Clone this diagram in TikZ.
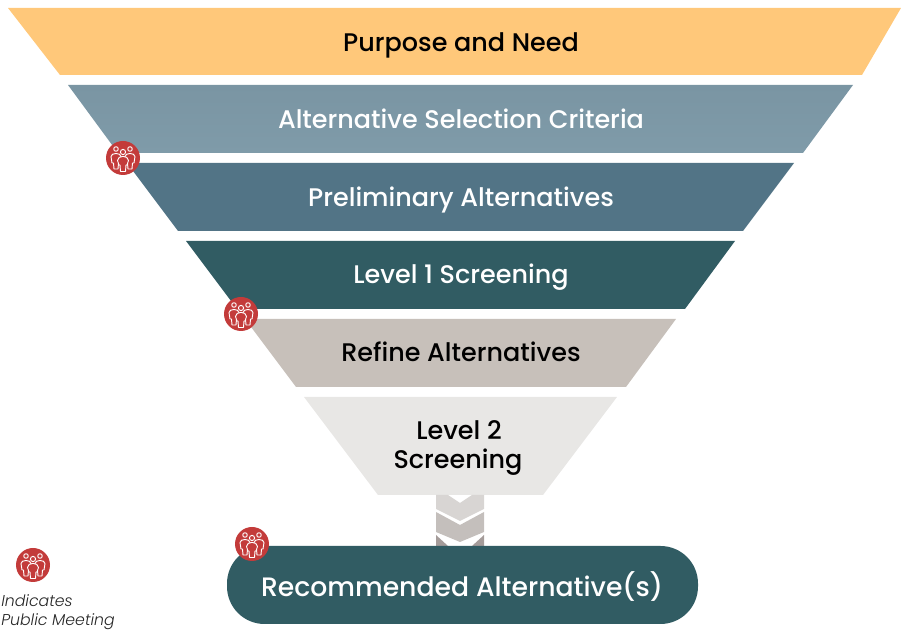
\documentclass[tikz,border=0pt]{standalone}
\usepackage{fontspec}
\setmainfont{Poppins}[UprightFont={* Medium},ItalicFont={* Light Italic}]
\definecolor{cA}{HTML}{FFC87A}
\definecolor{cBt}{HTML}{7A95A3}\definecolor{cBb}{HTML}{7F9BA9}
\definecolor{cC}{HTML}{527486}
\definecolor{cD}{HTML}{315C63}
\definecolor{cE}{HTML}{C7C0BA}
\definecolor{cF}{HTML}{E8E7E5}
\definecolor{cR}{HTML}{C33B3A}
\definecolor{chA}{HTML}{D8D5D3}\definecolor{chB}{HTML}{C4BFBC}\definecolor{chC}{HTML}{A59C9A}
\tikzset{
  band/.style={draw=none},
  lab/.style={font=\fontsize{19.1}{22.5}\selectfont,align=center,inner sep=0pt,anchor=base},
  person/.style={draw=white,line width=0.7pt,fill=#1,line join=round},
  meeting/.pic={
    \fill[cR] (0,0) circle (17);
    \foreach \s in {-1,1}{
      \begin{scope}[shift={(\s*7,0)}]
      \draw[person=cR] (0,-9) circle (2.3);
      \draw[person=cR] (-5,-1.5) .. controls (-5,-5.5) and (5,-5.5) .. (5,-1.5) -- (4,5) -- (2.5,5) -- (2,11) -- (-2,11) -- (-2.5,5) -- (-4,5) -- cycle;
      \end{scope}
    }
    \draw[person=cR] (0,-6) circle (2.6);
    \draw[person=cR] (-5.5,2.5) .. controls (-5.5,-3) and (5.5,-3) .. (5.5,2.5) -- (4,7) -- (3,7) -- (2.5,13.5) -- (-2.5,13.5) -- (-3,7) -- (-4,7) -- cycle;
  }
}
\begin{document}
\begin{tikzpicture}[x=0.75pt,y=-0.75pt]
\useasboundingbox (0,0) rectangle (901,630);
\fill[band,cA] (8,8) -- (901,8) -- (862,75) -- (60,75) -- cycle;
\shade[band,top color=cBt,bottom color=cBb] (68,85) -- (853,85) -- (803,153) -- (118,153) -- cycle;
\fill[band,cC] (127,163) -- (794,163) -- (743,231) -- (178,231) -- cycle;
\fill[band,cD] (186,241) -- (735,241) -- (685,309) -- (237,309) -- cycle;
\fill[band,cE] (245,319) -- (676,319) -- (626,387) -- (296,387) -- cycle;
\fill[band,cF] (304,397) -- (617,397) -- (543,495) -- (378,495) -- cycle;
\fill[chA] (436,495) -- (448,495) -- (460,503) -- (472,495) -- (484,495) -- (484,509) -- (460,521) -- (436,509) -- cycle;
\fill[chB] (436,512) -- (460,525) -- (484,512) -- (484,532) -- (460,542) -- (436,532) -- cycle;
\fill[chC] (436,535) -- (448,546) -- (436,546) -- cycle;
\fill[chC] (484,535) -- (472,546) -- (484,546) -- cycle;
\fill[cD,rounded corners=37.5*0.75pt] (227,546) rectangle (698,624);
\node[lab,text=black] (purpose) at (461,52) {Purpose and Need};
\node[lab,text=white] (criteria) at (461,129) {Alternative Selection Criteria};
\node[lab,text=white] (prelim) at (461,207) {Preliminary Alternatives};
\node[lab,text=white] (level1) at (461,284) {Level 1 Screening};
\node[lab,text=black] (refine) at (461,362) {Refine Alternatives};
\node[lab,text=black] (level2a) at (459,440) {Level 2};
\node[lab,text=black] (level2b) at (458,469) {Screening};
\node[lab,text=white,font=\fontsize{20}{24}\selectfont] (rec) at (462,597) {Recommended Alternative(s)};
\pic at (123,158) {meeting};
\pic at (241,314) {meeting};
\pic at (252,544) {meeting};
\pic at (33,565) {meeting};
\node[anchor=base west,inner sep=0pt,text=black!85,font=\fontsize{11.8}{15}\selectfont\itshape] (legend1) at (1,607) {Indicates};
\node[anchor=base west,inner sep=0pt,text=black!85,font=\fontsize{11.8}{15}\selectfont\itshape] (legend2) at (1,625.5) {Public Meeting};
\end{tikzpicture}
\end{document}
